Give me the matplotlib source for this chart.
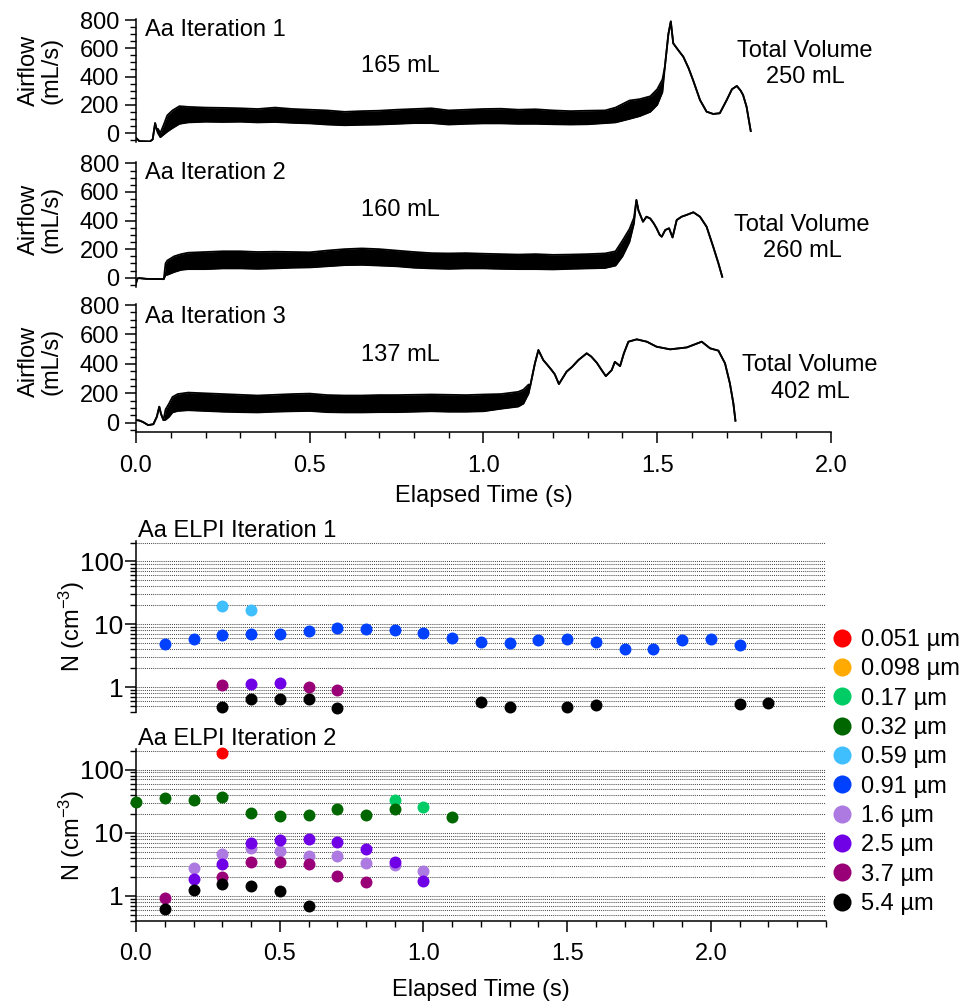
import matplotlib
matplotlib.use("Agg")
import matplotlib.pyplot as plt
from matplotlib.lines import Line2D
from matplotlib.ticker import MultipleLocator, FixedLocator, NullFormatter, LogLocator

plt.rcParams['font.family'] = ['Liberation Sans', 'DejaVu Sans']
plt.rcParams['mathtext.fontset'] = 'custom'
plt.rcParams['mathtext.rm'] = 'Liberation Sans'
plt.rcParams['mathtext.default'] = 'regular'

FS = 17

# ---- airflow traces: time, lower / upper envelope of the trace (mL/s) ----
t1 = [0.000, 0.010, 0.040, 0.048, 0.055, 0.060, 0.063, 0.070, 0.080, 0.090, 0.105, 0.125,
      0.15, 0.20, 0.25, 0.30, 0.35, 0.40, 0.45, 0.50, 0.55, 0.60, 0.65, 0.70, 0.75, 0.80,
      0.85, 0.90, 0.95, 1.00, 1.05, 1.10, 1.15, 1.20, 1.25, 1.30, 1.35, 1.38, 1.42, 1.45,
      1.48, 1.50, 1.515, 1.522, 1.532, 1.539, 1.546, 1.560, 1.575, 1.590, 1.603, 1.623,
      1.642, 1.661, 1.680, 1.700, 1.715, 1.729, 1.740, 1.747, 1.757, 1.769]
lo1 = [-35, -58, -60, -45, 70, 20, 0, -30, -10, 10, 35, 65,
       75, 80, 78, 80, 75, 78, 72, 68, 60, 55, 58, 60, 65, 70,
       70, 60, 65, 68, 68, 65, 65, 62, 60, 62, 70, 75, 100, 120,
       150, 200, 290, 470, 700, 790, 635, 588, 540, 460, 375, 234,
       151, 135, 140, 234, 310, 333, 300, 269, 186, 14]
hi1 = [-35, -58, -60, -45, 70, 20, 30, 0, 60, 125, 160, 190,
       185, 180, 178, 175, 170, 180, 170, 165, 160, 150, 155, 158, 165, 170,
       175, 160, 165, 170, 172, 165, 168, 160, 155, 158, 160, 180, 230, 240,
       260, 310, 380, 470, 700, 790, 635, 588, 540, 460, 375, 234,
       151, 135, 140, 234, 310, 333, 300, 269, 186, 14]

t2 = [0.000, 0.004, 0.010, 0.030, 0.080, 0.085, 0.09, 0.11, 0.13, 0.15, 0.20, 0.25, 0.30,
      0.35, 0.40, 0.45, 0.50, 0.55, 0.60, 0.65, 0.70, 0.75, 0.80, 0.85, 0.90, 0.95, 1.00,
      1.05, 1.10, 1.15, 1.20, 1.25, 1.30, 1.35, 1.38, 1.40, 1.42, 1.433, 1.440, 1.446,
      1.459, 1.469, 1.480, 1.490, 1.498, 1.507, 1.513, 1.523, 1.534, 1.544, 1.556, 1.570,
      1.585, 1.604, 1.623, 1.642, 1.661, 1.676, 1.687]
lo2 = [-40, -5, -3, -8, -10, 20, 20, 40, 55, 60, 60, 65, 65,
       62, 65, 70, 72, 80, 88, 90, 85, 80, 70, 65, 62, 65, 65,
       62, 60, 60, 58, 62, 65, 68, 85, 150, 250, 380, 544, 470,
       392, 427, 414, 380, 346, 300, 287, 334, 346, 282, 404, 427,
       440, 458, 427, 357, 217, 101, 7]
hi2 = [-40, -5, -3, -8, -10, 100, 120, 150, 165, 175, 180, 185, 185,
       180, 182, 180, 178, 190, 200, 205, 200, 190, 180, 172, 170, 172, 168,
       165, 162, 165, 160, 162, 165, 170, 185, 260, 340, 420, 544, 470,
       392, 427, 414, 380, 346, 300, 287, 334, 346, 282, 404, 427,
       440, 458, 427, 357, 217, 101, 7]

t3 = [0.000, 0.010, 0.020, 0.035, 0.050, 0.060, 0.067, 0.072, 0.079, 0.085, 0.095, 0.105,
      0.12, 0.15, 0.20, 0.25, 0.30, 0.35, 0.40, 0.45, 0.50, 0.55, 0.60, 0.65, 0.70, 0.75,
      0.80, 0.85, 0.90, 0.95, 1.00, 1.05, 1.10, 1.115, 1.130, 1.134, 1.148, 1.158, 1.172,
      1.185, 1.196, 1.205, 1.217, 1.239, 1.255, 1.273, 1.297, 1.310, 1.326, 1.340, 1.352,
      1.369, 1.378, 1.393, 1.404, 1.417, 1.441, 1.470, 1.498, 1.537, 1.585, 1.628, 1.652,
      1.676, 1.695, 1.709, 1.719, 1.725]
lo3 = [18, 15, 5, -16, -10, 41, 109, 60, 18, 20, 40, 70,
       80, 85, 80, 75, 72, 70, 75, 78, 80, 72, 70, 70, 72, 72,
       75, 78, 75, 75, 78, 95, 110, 130, 200, 245, 404, 494, 426,
       390, 358, 330, 263, 347, 380, 426, 472, 450, 408, 358, 317,
       358, 414, 385, 472, 551, 567, 551, 517, 499, 512, 551, 506,
       490, 404, 268, 132, 14]
hi3 = [18, 15, 5, -16, -10, 41, 109, 60, 18, 90, 130, 175,
       195, 205, 200, 195, 190, 185, 190, 195, 198, 188, 185, 185, 188, 188,
       190, 192, 190, 188, 192, 195, 210, 225, 260, 245, 404, 494, 426,
       390, 358, 330, 263, 347, 380, 426, 472, 450, 408, 358, 317,
       358, 414, 385, 472, 551, 567, 551, 517, 499, 512, 551, 506,
       490, 404, 268, 132, 14]

panel_titles = ['Aa Iteration 1', 'Aa Iteration 2', 'Aa Iteration 3']
first_vol = ['165 mL', '160 mL', '137 mL']
total_vol = ['Total Volume\n250 mL', 'Total Volume\n260 mL', 'Total Volume\n402 mL']

# ---- ELPI number concentrations (cm^-3) ----
sizes = ['0.051 µm', '0.098 µm', '0.17 µm', '0.32 µm', '0.59 µm',
         '0.91 µm', '1.6 µm', '2.5 µm', '3.7 µm', '5.4 µm']
colors = ['#ff0000', '#ffaa00', '#00cc66', '#006600', '#40bfff',
          '#0040ff', '#ac7ae0', '#7000e6', '#990077', '#000000']

# iteration 1
i1_059_t = [0.3, 0.4]
i1_059_n = [19.5, 17.0]
i1_091_t = [0.1, 0.2, 0.3, 0.4, 0.5, 0.6, 0.7, 0.8, 0.9, 1.0, 1.1,
            1.2, 1.3, 1.4, 1.5, 1.6, 1.7, 1.8, 1.9, 2.0, 2.1]
i1_091_n = [4.9, 5.9, 6.7, 7.0, 6.9, 7.7, 8.8, 8.4, 8.1, 7.3, 6.1,
            5.25, 5.1, 5.7, 5.9, 5.25, 4.1, 4.05, 5.6, 5.9, 4.7]
i1_25_t = [0.4, 0.5]
i1_25_n = [1.12, 1.15]
i1_37_t = [0.3, 0.6, 0.7]
i1_37_n = [1.06, 0.99, 0.9]
i1_54_t = [0.3, 0.4, 0.5, 0.6, 0.7, 1.2, 1.3, 1.5, 1.6, 2.1, 2.2]
i1_54_n = [0.48, 0.65, 0.65, 0.65, 0.47, 0.58, 0.48, 0.48, 0.51, 0.53, 0.56]

# iteration 2
i2_0051_t = [0.3]
i2_0051_n = [183]
i2_017_t = [0.9, 1.0]
i2_017_n = [32.5, 25.2]
i2_032_t = [0.0, 0.1, 0.2, 0.3, 0.4, 0.5, 0.6, 0.7, 0.8, 0.9, 1.1]
i2_032_n = [31, 35, 33, 37, 20.8, 18.4, 18.9, 23.7, 19, 23.7, 18]
i2_16_t = [0.2, 0.3, 0.4, 0.5, 0.6, 0.7, 0.8, 0.9, 1.0]
i2_16_n = [2.76, 4.6, 5.8, 5.2, 4.3, 4.3, 3.3, 3.1, 2.5]
i2_25_t = [0.2, 0.3, 0.4, 0.5, 0.6, 0.7, 0.8, 0.9, 1.0]
i2_25_n = [1.83, 3.2, 6.76, 7.6, 7.9, 7.1, 5.5, 3.4, 1.74]
i2_37_t = [0.1, 0.3, 0.4, 0.5, 0.6, 0.7, 0.8]
i2_37_n = [0.93, 1.97, 3.5, 3.4, 3.2, 2.1, 1.64]
i2_54_t = [0.1, 0.2, 0.3, 0.4, 0.5, 0.6]
i2_54_n = [0.63, 1.24, 1.55, 1.45, 1.2, 0.70]

W, H = 967, 1008
fig = plt.figure(figsize=(W / 100, H / 100), dpi=100)


def rect(left, top, right, bottom):
    return [left / W, 1 - bottom / H, (right - left) / W, (bottom - top) / H]


# ---------------- airflow panels ----------------
flow_rects = [rect(136, 18.6, 831, 142.2), rect(136, 162, 831, 287), rect(136, 303.6, 831, 432.3)]
traces = [(t1, lo1, hi1), (t2, lo2, hi2), (t3, lo3, hi3)]
label_y = [0.584, 0.54, 0.554]
title_v = [730, 730, 720]
vol_pos = [(0.76, 474), (0.76, 474), (0.76, 460)]
tot_pos = [(1.925, 488), (1.917, 278), (1.94, 300)]

for k in range(3):
    ax = fig.add_axes(flow_rects[k])
    t, lo, hi = traces[k]
    ax.fill_between(t, lo, hi, color='k', lw=0)
    ax.plot(t, lo, color='k', lw=1.3)
    ax.plot(t, hi, color='k', lw=1.3)
    ax.set_xlim(0, 2.0)
    ax.set_ylim(-65, 810)
    for s in ['top', 'right']:
        ax.spines[s].set_visible(False)
    ax.spines['left'].set_linewidth(1.1)
    ax.yaxis.set_major_locator(FixedLocator([0, 200, 400, 600, 800]))
    ax.yaxis.set_minor_locator(MultipleLocator(50))
    ax.tick_params(axis='y', which='major', length=8, width=1.1, labelsize=FS, pad=4)
    ax.tick_params(axis='y', which='minor', length=4, width=1.0)
    ax.xaxis.set_major_locator(MultipleLocator(0.5))
    ax.xaxis.set_minor_locator(MultipleLocator(0.1))
    ax.xaxis.set_major_formatter(matplotlib.ticker.FormatStrFormatter('%.1f'))
    if k < 2:
        ax.spines['bottom'].set_visible(False)
        ax.tick_params(axis='x', which='both', bottom=False, labelbottom=False)
    else:
        ax.spines['bottom'].set_linewidth(1.1)
        ax.tick_params(axis='x', which='major', length=8, width=1.1, labelsize=FS, pad=8)
        ax.tick_params(axis='x', which='minor', length=4, width=1.0)
        ax.set_xlabel('Elapsed Time (s)', fontsize=FS, labelpad=6)
    ax.text(-0.138, label_y[k], 'Airflow\n(mL/s)', transform=ax.transAxes, rotation=90,
            ha='center', va='center', fontsize=FS, linespacing=1.05)
    ax.text(0.025, title_v[k], panel_titles[k], fontsize=FS, va='center', ha='left')
    ax.text(vol_pos[k][0], vol_pos[k][1], first_vol[k], fontsize=FS, ha='center', va='center')
    ax.text(tot_pos[k][0], tot_pos[k][1], total_vol[k], fontsize=FS, ha='center', va='center',
            linespacing=1.25)

# ---------------- ELPI panels ----------------
elpi1 = [(4, i1_059_t, i1_059_n), (5, i1_091_t, i1_091_n), (7, i1_25_t, i1_25_n),
         (8, i1_37_t, i1_37_n), (9, i1_54_t, i1_54_n)]
elpi2 = [(0, i2_0051_t, i2_0051_n), (2, i2_017_t, i2_017_n), (3, i2_032_t, i2_032_n),
         (6, i2_16_t, i2_16_n), (7, i2_25_t, i2_25_n), (8, i2_37_t, i2_37_n),
         (9, i2_54_t, i2_54_n)]
elpi_rects = [rect(136, 541, 826, 712), rect(136, 749, 826, 921)]
elpi_titles = ['Aa ELPI Iteration 1', 'Aa ELPI Iteration 2']

for k, series in enumerate([elpi1, elpi2]):
    ax = fig.add_axes(elpi_rects[k])
    for idx, t, n in series:
        ax.plot(t, n, 'o', color=colors[idx], ms=8.6, mew=0, clip_on=False, zorder=3)
    ax.set_yscale('log')
    ax.set_ylim(0.4, 212)
    ax.set_xlim(0, 2.4)
    ax.set_axisbelow(True)
    ax.yaxis.set_major_locator(FixedLocator([1, 10, 100]))
    ax.yaxis.set_major_formatter(matplotlib.ticker.FixedFormatter(['1', '10', '100']))
    ax.yaxis.set_minor_locator(LogLocator(base=10, subs=[2, 3, 4, 5, 6, 7, 8, 9]))
    ax.yaxis.set_minor_formatter(NullFormatter())
    ax.grid(True, axis='y', which='both', ls=(0, (1, 1)), color='0.3', lw=0.75)
    for s in ['top', 'right']:
        ax.spines[s].set_visible(False)
    ax.spines['left'].set_linewidth(1.1)
    ax.tick_params(axis='y', which='major', length=8, width=1.1, labelsize=19, pad=1)
    ax.tick_params(axis='y', which='minor', length=4, width=1.0)
    ax.xaxis.set_major_locator(MultipleLocator(0.5))
    ax.xaxis.set_minor_locator(MultipleLocator(0.1))
    ax.xaxis.set_major_formatter(matplotlib.ticker.FormatStrFormatter('%.1f'))
    if k == 0:
        ax.spines['bottom'].set_visible(False)
        ax.tick_params(axis='x', which='both', bottom=False, labelbottom=False)
    else:
        ax.spines['bottom'].set_linewidth(1.1)
        ax.tick_params(axis='x', which='major', length=8, width=1.1, labelsize=FS, pad=8)
        ax.tick_params(axis='x', which='minor', length=4, width=1.0)
        ax.set_xlabel('Elapsed Time (s)', fontsize=FS, labelpad=10)
    ax.text(-0.093, 0.5, 'N (cm$^{-3}$)', transform=ax.transAxes, rotation=90,
            ha='center', va='center', fontsize=FS)
    ax.text(0.003, 1.025, elpi_titles[k], transform=ax.transAxes, fontsize=FS,
            ha='left', va='baseline')

handles = [Line2D([], [], marker='o', ls='', color=c, ms=13, mew=0) for c in colors]
fig.legend(handles, sizes, loc='upper left', bbox_to_anchor=(830 / W, 1 - 629 / H),
           frameon=False, fontsize=FS, handlelength=1.0, handletextpad=0.3,
           labelspacing=0.31, borderpad=0, borderaxespad=0)

fig.savefig('out.png', dpi=100)
